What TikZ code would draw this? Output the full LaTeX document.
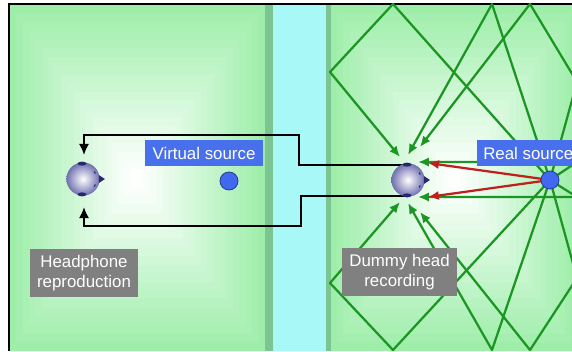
\documentclass[tikz,border=0pt]{standalone}
\usepackage{fontspec}
\setmainfont{Liberation Sans}
\usepackage{xcolor}
\usetikzlibrary{arrows.meta,calc,positioning}

\definecolor{roomgreen}{RGB}{158,238,170}
\definecolor{wallgreen}{RGB}{124,196,146}
\definecolor{gapcyan}{RGB}{168,248,248}
\definecolor{labelblue}{RGB}{72,112,236}
\definecolor{labelgray}{RGB}{128,128,128}
\definecolor{raygreen}{RGB}{28,150,34}
\definecolor{rayred}{RGB}{192,32,28}
\definecolor{headblue}{RGB}{112,112,176}
\definecolor{earblue}{RGB}{40,40,112}
\definecolor{dotblue}{RGB}{64,104,240}

\begin{document}
\begin{tikzpicture}[x=0.025cm, y=-0.025cm,
    tag/.style={fill=labelblue, text=white, font=\fontsize{12}{14}\selectfont, inner xsep=0.18cm, inner ysep=0pt, minimum height=0.65cm},
    note/.style={fill=labelgray, text=white, align=center, font=\fontsize{12}{14}\selectfont, inner xsep=0.18cm, inner ysep=0pt, minimum height=1.2cm},
    ray/.style={raygreen, line width=1.6pt, line join=round, -{Latex[length=0.27cm,width=0.23cm]}},
    direct/.style={rayred, line width=1.6pt, -{Latex[length=0.27cm,width=0.23cm]}},
    sig/.style={black, line width=2.1pt, -{Latex[length=0.28cm,width=0.26cm]}},
    head/.style={circle, minimum size=0.83cm, inner sep=0pt, inner color=white, outer color=headblue},
    src/.style={circle, minimum size=0.45cm, inner sep=0pt, fill=dotblue, draw=dotblue!60!black, line width=0.6pt}]
    \clip (0,0) rectangle (572,351);
    \fill[white] (0,0) rectangle (572,351);

    % the two rooms, banded towards their centres
    \foreach \i [evaluate=\i as \c using {int(100-5.2*\i)}, evaluate=\i as \s using {1-\i/20}] in {0,...,19} {
        \fill[roomgreen!\c!white] ({137-127*\s},{178-173*\s}) rectangle ({137+128*\s},{178+173*\s});
        \fill[roomgreen!\c!white] ({454-123*\s},{178-173*\s}) rectangle ({454+123*\s},{178+173*\s});
    }
    \fill[wallgreen] (265,5) rectangle (273,351);
    \fill[gapcyan] (273,5) rectangle (326,351);
    \fill[wallgreen] (326,5) rectangle (331,351);
    \draw[line width=0.9pt] (9,351) -- (9,4) -- (572,4);

    % points on the walls and at the ears
    \coordinate (rs) at (550,180);
    \coordinate (ceilA) at (393,4);   \coordinate (sideA) at (330,72);
    \coordinate (ceilB) at (492,4);
    \coordinate (ceilC) at (530,4);   \coordinate (wallC) at (577,82);
    \coordinate (wallD) at (577,162);
    \coordinate (floorA) at (393,350); \coordinate (sideB) at (330,283);
    \coordinate (floorB) at (492,350);
    \coordinate (floorC) at (530,350); \coordinate (wallE) at (577,278);
    \coordinate (wallF) at (577,197);
    \coordinate (t1) at (400,157); \coordinate (t2) at (408,155);
    \coordinate (t3) at (420,147); \coordinate (t4) at (418,162);
    \coordinate (b1) at (400,202); \coordinate (b2) at (408,203);
    \coordinate (b3) at (420,212); \coordinate (b4) at (418,197);
    \coordinate (r1) at (428,163); \coordinate (r2) at (428,197);
    \coordinate (rtop) at (404,165); \coordinate (rbot) at (404,196);
    \coordinate (ltop) at (84,155);  \coordinate (lbot) at (84,207);

    % reflected paths
    \draw[ray] (rs) -- (ceilA) -- (sideA) -- (t1);
    \draw[ray] (rs) -- (ceilB) -- (t2);
    \draw[ray] (rs) -- (wallC) -- (ceilC) -- (t3);
    \draw[ray] (rs) -- (wallD) -- (t4);
    \draw[ray] (rs) -- (floorA) -- (sideB) -- (b1);
    \draw[ray] (rs) -- (floorB) -- (b2);
    \draw[ray] (rs) -- (wallE) -- (floorC) -- (b3);
    \draw[ray] (rs) -- (wallF) -- (b4);
    % direct sound
    \draw[direct] (rs) -- (r1);
    \draw[direct] (rs) -- (r2);

    % ear signals to the headphones
    \draw[sig] (rtop) -- ++(-105,0) -- ++(0,-30) -| (ltop);
    \draw[sig] (rbot) -- ++(-103,0) -- ++(0,30) -| (lbot);

    \node[head] (lhead) at (83,179) {};
    \node[head] (rhead) at (408,180) {};
    \foreach \h in {lhead,rhead} {
        \fill[earblue] ($(\h.north)+(-1,1.5)$) ellipse [x radius=4.5, y radius=2];
        \fill[earblue] ($(\h.south)+(-1,-1.5)$) ellipse [x radius=4.5, y radius=2];
        \fill[earblue] ($(\h.east)+(-1,-4)$) -- ++(6,4) -- ++(-6,4) -- cycle;
        \draw[earblue, line width=0.8pt] ($(\h)+(24:13.5)$) -- ($(\h)+(34:13.5)$);
        \draw[earblue, line width=0.8pt] ($(\h)+(-24:13.5)$) -- ($(\h)+(-34:13.5)$);
    }

    \node[src] (vsrc) at (229,181) {};
    \node[src] (rsrc) at (rs) {};

    \node[tag, minimum width=2.95cm] (vlabel) at (204,153) {Virtual source};
    \node[tag, anchor=west, inner xsep=0.15cm] (rlabel) at (477,153) {Real source};
    \node[note] (hplabel) at (84,273) {Headphone\\reproduction};
    \node[note] (dhlabel) at (399.5,272) {Dummy head\\recording};
\end{tikzpicture}
\end{document}
